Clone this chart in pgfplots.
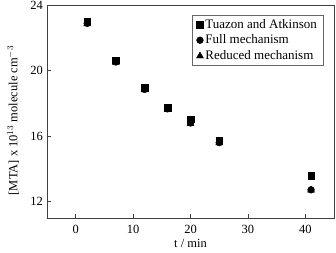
\documentclass[border=0pt]{standalone}
\usepackage{pgfplots}
\pgfplotsset{compat=1.18}
\usepackage{fontspec}
\setmainfont{Liberation Serif}
\begin{document}
\fontsize{12bp}{14bp}\selectfont
\begin{tikzpicture}
\begin{axis}[
  scale only axis,
  width=287bp, height=213bp,
  xmin=-5, xmax=45, ymin=11, ymax=24,
  xtick={0,10,20,30,40}, ytick={12,16,20,24},
  tick align=inside, tick pos=left,
  major tick length=4bp,
  axis line style={draw=black!75, line width=0.8pt},
  tick style={black!75, line width=0.7pt},
  /pgf/number format/assume math mode=true,
  ticklabel style={font=\fontsize{12.5bp}{14bp}\selectfont},
  xticklabel style={yshift=-3bp},
  xlabel={t / min},
  ylabel={[MTA] x 10$^{13}$ molecule cm$^{-3}$},
  label style={font=\fontsize{12.5bp}{14bp}\selectfont},
  xlabel style={yshift=2.5bp},
  ylabel style={at={(ticklabel cs:0.458)}, yshift=3bp},
  legend style={at={(0.962,0.954)}, anchor=north east, draw=black!60,
    font=\fontsize{13bp}{14bp}\selectfont, row sep=1bp, inner xsep=4bp, inner ysep=2bp},
  legend cell align=left,
]
\addplot[only marks, mark=square*, mark size=3.3bp, black] coordinates {
 (2,23.0) (7,20.62) (12,18.97) (16,17.72) (20,17.02) (25,15.72) (41,13.6)};
\addlegendentry{Tuazon and Atkinson}
\addplot[only marks, mark=*, mark size=3.4bp, black] coordinates {
 (2,22.88) (7,20.52) (12,18.85) (16,17.66) (20,16.8) (25,15.6) (41,12.72)};
\addlegendentry{Full mechanism}
\addplot[only marks, mark=triangle*, mark size=4bp, black] coordinates {
 (2,22.85) (7,20.5) (12,18.82) (16,17.64) (20,16.76) (25,15.58) (41,12.7)};
\addlegendentry{Reduced mechanism}
\end{axis}
\pgfresetboundingbox
\useasboundingbox ([shift={(-47bp,-34bp)}]current axis.south west) rectangle ([shift={(2bp,5bp)}]current axis.north east);
\end{tikzpicture}
\end{document}
